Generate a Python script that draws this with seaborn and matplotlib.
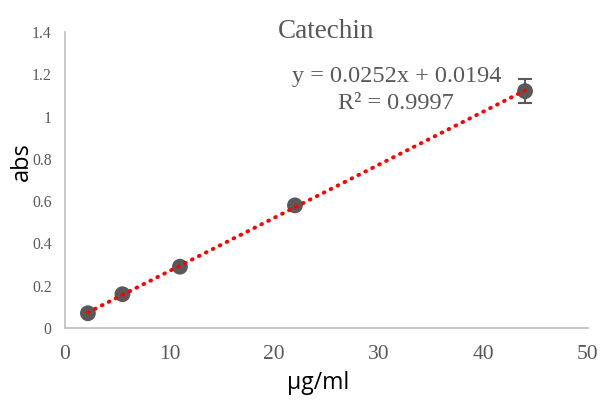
import numpy as np
import pandas as pd
import seaborn as sns
from matplotlib import pyplot as plt

# calibration standard: concentration vs absorbance
conc = [2.2, 5.5, 11, 22, 44]
absorb = [0.07, 0.16, 0.29, 0.58, 1.12]
err = [0, 0, 0, 0, 0.057]
x_ticks = [0, 10, 20, 30, 40, 50]
y_ticks = [0, 0.2, 0.4, 0.6, 0.8, 1, 1.2, 1.4]
y_tick_labels = ["0", "0.2", "0.4", "0.6", "0.8", "1", "1.2", "1.4"]

df = pd.DataFrame({"conc": conc, "abs": absorb, "err": err})

sns.set_style("white")
fig = plt.figure(figsize=(6.01, 4.04), dpi=100)
ax = fig.add_axes([0.108, 0.188, 0.870, 0.733])

grey = "#595959"
ax.errorbar(df["conc"], df["abs"], yerr=df["err"], fmt="none",
            ecolor=grey, elinewidth=1.5, capsize=5, capthick=1.5, zorder=2)
sns.scatterplot(data=df, x="conc", y="abs", ax=ax, color=grey, s=130,
                edgecolor="none", zorder=3)

slope, intercept = np.polyfit(df["conc"], df["abs"], 1)
xs = np.array([df["conc"].min(), df["conc"].max()])
ax.plot(xs, slope * xs + intercept, color="#ff0000", lw=2.8,
        linestyle=(0, (0.2, 1.8)), dash_capstyle="round", zorder=4)

ax.set_xlim(0, 50)
ax.set_ylim(0, 1.4)
ax.set_xticks(x_ticks)
ax.set_xticklabels([str(t) for t in x_ticks], family="Liberation Serif",
                   fontsize=15.5, color="#595959")
ax.set_yticks(y_ticks)
ax.set_yticklabels(y_tick_labels, family="Liberation Serif",
                   fontsize=11.3, color="#595959")
ax.tick_params(axis="both", length=0)
ax.tick_params(axis="x", pad=12)
ax.tick_params(axis="y", pad=9.5)

for side in ["top", "right"]:
    ax.spines[side].set_visible(False)
for side in ["left", "bottom"]:
    ax.spines[side].set_color("#bfbfbf")
    ax.spines[side].set_linewidth(1.2)

ax.set_xlabel("µg/ml", family="Open Sans", fontsize=16.5, color="black", va="center")
ax.xaxis.set_label_coords(0.484, -0.186)
ax.set_ylabel("abs", family="Open Sans", fontsize=17, color="black", va="center", ha="center")
ax.yaxis.set_label_coords(-0.083, 0.561)

ax.text(0.5, 1.003, "Catechin", transform=ax.transAxes, ha="center", va="center",
        family="Liberation Serif", fontsize=19.5, color="#595959")
ax.text(31.7, 1.125, "y = 0.0252x + 0.0194\nR² = 0.9997", ha="center", va="center",
        family="Liberation Serif", fontsize=17.5, color="#595959", linespacing=1.42)

fig.savefig("out.png", dpi=100)
